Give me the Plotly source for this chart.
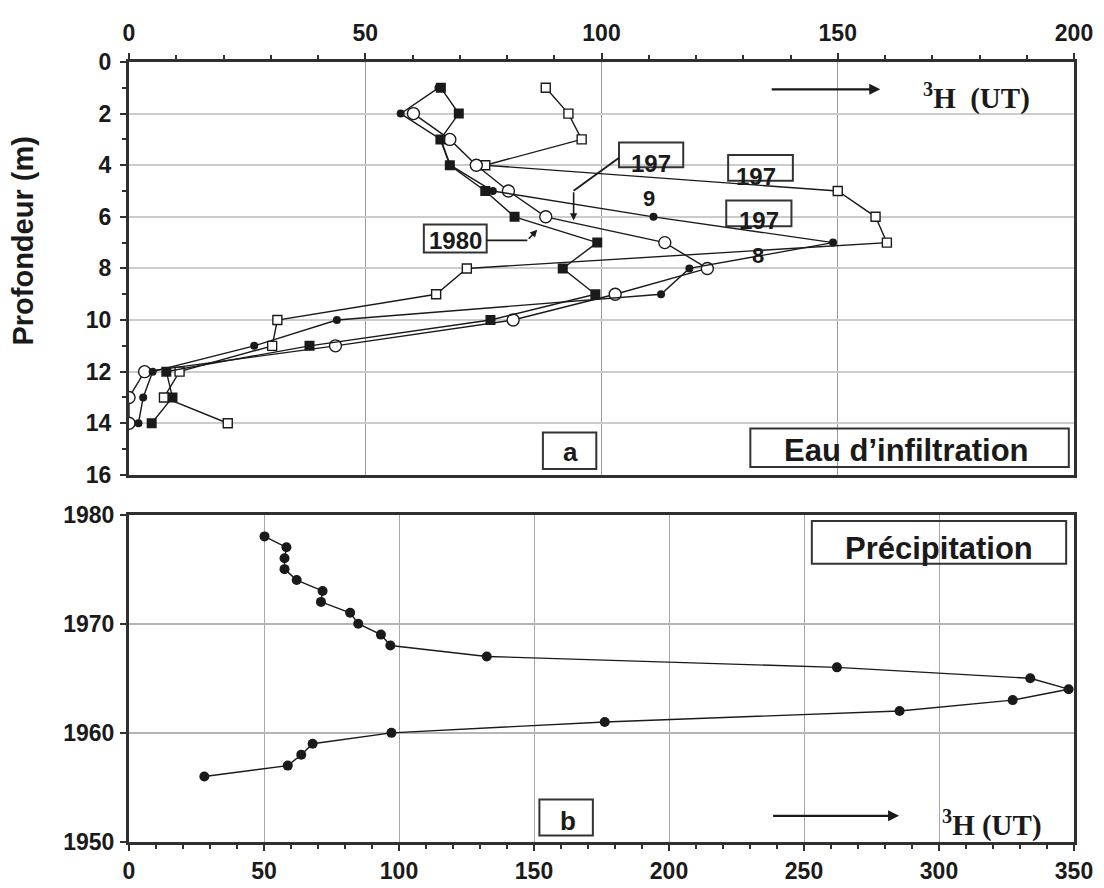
import plotly.graph_objects as go

# ---------------- data : panel a (infiltration water) ----------------
depth_fc = [1, 2, 3, 4, 5, 6, 7, 8, 9, 10, 11, 12, 13, 14]
h3_fc = [65.5, 57.5, 66, 68, 77, 111, 149, 118.6, 112.6, 44, 26.5, 5, 3, 2]

depth_fs = [1, 2, 3, 4, 5, 6, 7, 8, 9, 10, 11, 12, 13, 14]
h3_fs = [66, 69.8, 65.9, 67.9, 75.4, 81.6, 99.1, 91.8, 98.7, 76.5, 38.2, 7.9, 9.2, 4.8]

depth_oc = [2, 3, 4, 5, 6, 7, 8, 9, 10, 11, 12, 13, 14]
h3_oc = [60.2, 67.9, 73.5, 80.3, 88.2, 113.4, 122.4, 102.9, 81.3, 43.7, 3.3, 0, 0]

depth_os = [1, 2, 3, 4, 5, 6, 7, 8, 9, 10, 11, 12, 13, 14]
h3_os = [88.2, 93, 95.8, 75.4, 150, 158, 160.4, 71.5, 65, 31.4, 30.3, 10.7, 7.4, 20.9]

# ---------------- data : panel b (precipitation) ----------------
years = [1956, 1957, 1958, 1959, 1960, 1961, 1962, 1963, 1964, 1965, 1966, 1967,
         1968, 1969, 1970, 1971, 1972, 1973, 1974, 1975, 1976, 1977, 1978]
h3_prec = [27.9, 58.8, 63.8, 68.0, 97.2, 176.2, 285.4, 327.3, 348, 333.8, 262.2, 132.5,
           96.8, 93.3, 84.9, 81.9, 71.1, 71.7, 62.1, 57.6, 57.6, 58.3, 50.2]

top_ticks = [0, 50, 100, 150, 200]
depth_ticks = [0, 2, 4, 6, 8, 10, 12, 14, 16]
bot_ticks = [0, 50, 100, 150, 200, 250, 300, 350]
year_ticks = [1950, 1960, 1970, 1980]

SANS = "Liberation Sans"
SERIF = "Liberation Serif"
INK = "#1a1a1a"

fig = go.Figure()

line_style = dict(color=INK, width=1.4)
fig.add_trace(go.Scatter(x=h3_os, y=depth_os, mode="lines+markers", line=line_style,
                         marker=dict(symbol="square", size=9, color="white",
                                     line=dict(color=INK, width=1.4)),
                         xaxis="x", yaxis="y", showlegend=False))
fig.add_trace(go.Scatter(x=h3_oc, y=depth_oc, mode="lines+markers", line=line_style,
                         marker=dict(symbol="circle", size=12, color="white",
                                     line=dict(color=INK, width=1.4)),
                         xaxis="x", yaxis="y", showlegend=False))
fig.add_trace(go.Scatter(x=h3_fs, y=depth_fs, mode="lines+markers", line=line_style,
                         marker=dict(symbol="square", size=10, color=INK),
                         xaxis="x", yaxis="y", showlegend=False))
fig.add_trace(go.Scatter(x=h3_fc, y=depth_fc, mode="lines+markers", line=line_style,
                         marker=dict(symbol="circle", size=8, color=INK),
                         xaxis="x", yaxis="y", showlegend=False))

fig.add_trace(go.Scatter(x=h3_prec, y=years, mode="lines+markers", line=line_style,
                         marker=dict(symbol="circle", size=10, color=INK),
                         xaxis="x2", yaxis="y2", showlegend=False))

tickfont = dict(family=SANS, size=23, color=INK, weight="bold")
axis_common = dict(showline=True, linewidth=3, linecolor="#303030", mirror=True,
                   ticks="outside", tickcolor="#303030", tickwidth=2, ticklen=6,
                   tickfont=tickfont, zeroline=False)

fig.update_layout(
    width=1104, height=888,
    margin=dict(l=121, r=38, t=39, b=33),
    paper_bgcolor="white", plot_bgcolor="white",
    xaxis=dict(domain=[0, 1], anchor="y", side="top", range=[0, 200],
               tickvals=top_ticks, showgrid=True, gridcolor="#9a9a9a", gridwidth=1,
               minor=dict(dtick=10, ticks="outside", ticklen=4, tickcolor="#303030", showgrid=False),
               ticklabelstandoff=3, **axis_common),
    yaxis=dict(domain=[0.4707, 1], anchor="x", range=[16, 0],
               tickvals=depth_ticks, showgrid=True, gridcolor="#cccccc", gridwidth=2,
               minor=dict(dtick=1, ticks="outside", ticklen=4, tickcolor="#303030", showgrid=False),
               ticklabelstandoff=4, **axis_common),
    xaxis2=dict(domain=[0, 1], anchor="y2", range=[0, 350],
                tickvals=bot_ticks, showgrid=True, gridcolor="#a8a8a8", gridwidth=1,
                minor=dict(dtick=10, ticks="outside", ticklen=4, tickcolor="#303030", showgrid=False),
                ticklabelstandoff=0, **axis_common),
    yaxis2=dict(domain=[0, 0.4198], anchor="x2", range=[1950, 1980],
                tickvals=year_ticks, showgrid=True, gridcolor="#b5b5b5", gridwidth=1.5,
                ticklabelstandoff=1, **axis_common),
)

box_line = dict(color="#333333", width=2)
shapes = []
annotations = []


def box(x0, x1, y0, y1, xr="x", yr="y"):
    shapes.append(dict(type="rect", xref=xr, yref=yr, x0=x0, x1=x1, y0=y0, y1=y1,
                       line=box_line, fillcolor="rgba(0,0,0,0)", layer="above"))


def label(x, y, text, size, xr="x", yr="y", family=SANS, weight="bold"):
    annotations.append(dict(x=x, y=y, xref=xr, yref=yr, text=text, showarrow=False,
                            font=dict(family=family, size=size, color=INK, weight=weight),
                            xanchor="center", yanchor="middle"))


def arrow(x0, y0, x1, y1, xr="x", yr="y", width=2, size=1.0, head=2):
    annotations.append(dict(x=x1, y=y1, ax=x0, ay=y0, xref=xr, yref=yr, axref=xr, ayref=yr,
                            text="", showarrow=True, arrowhead=head, arrowsize=size,
                            arrowwidth=width, arrowcolor=INK, standoff=0, startstandoff=0))


# panel a labels
box(103.7, 117.3, 3.12, 4.08)
label(110.5, 3.95, "197", 24)
shapes.append(dict(type="path", xref="x", yref="y", path="M 103.8,3.7 L 94.1,4.99",
                   line=dict(color=INK, width=1.8)))
arrow(94.1, 4.99, 94.1, 6.14, width=1.6, size=0.9)

box(126.8, 140.5, 3.6, 4.6)
label(132.8, 4.45, "197", 24)
box(126.4, 140.2, 5.37, 6.37)
label(133.4, 6.15, "197", 24)

label(110.1, 5.3, "9", 22)
label(133.1, 7.5, "8", 22)

box(62.4, 75.7, 6.3, 7.38)
label(69.1, 6.9, "1980", 24)
shapes.append(dict(type="path", xref="x", yref="y", path="M 75.7,6.91 L 84.3,6.91",
                   line=dict(color=INK, width=1.8)))
arrow(84.3, 6.91, 86.4, 6.5, width=1.6, size=0.9)

arrow(135.7, 1.06, 159.0, 1.06, width=2.2, size=1.0)
label(179.4, 1.35, "<sup>3</sup>H  (UT)", 29, family=SERIF)

box(87.6, 98.9, 14.36, 15.77)
label(93.4, 15.1, "a", 26)
box(131.5, 198.9, 14.2, 15.7)
label(164.5, 15.05, "Eau d\u2019infiltration", 31)

# panel b labels
box(252.9, 347.1, 1979.4, 1975.5, "x2", "y2")
label(300.1, 1976.9, "Précipitation", 31, "x2", "y2")
box(152, 171.8, 1953.9, 1950.6, "x2", "y2")
label(162.5, 1951.9, "b", 26, "x2", "y2")
arrow(238, 1952.4, 285.2, 1952.4, "x2", "y2", width=2.2, size=1.0)
label(319.7, 1951.7, "<sup>3</sup>H (UT)", 29, "x2", "y2", family=SERIF)

# y-axis title for panel a
annotations.append(dict(x=-0.112, y=0.77, xref="paper", yref="paper",
                        text="Profondeur (m)", textangle=-90, showarrow=False,
                        font=dict(family=SANS, size=29, color=INK, weight="bold"),
                        xanchor="center", yanchor="middle"))

fig.update_layout(shapes=shapes, annotations=annotations)
fig.write_html("out.html")
